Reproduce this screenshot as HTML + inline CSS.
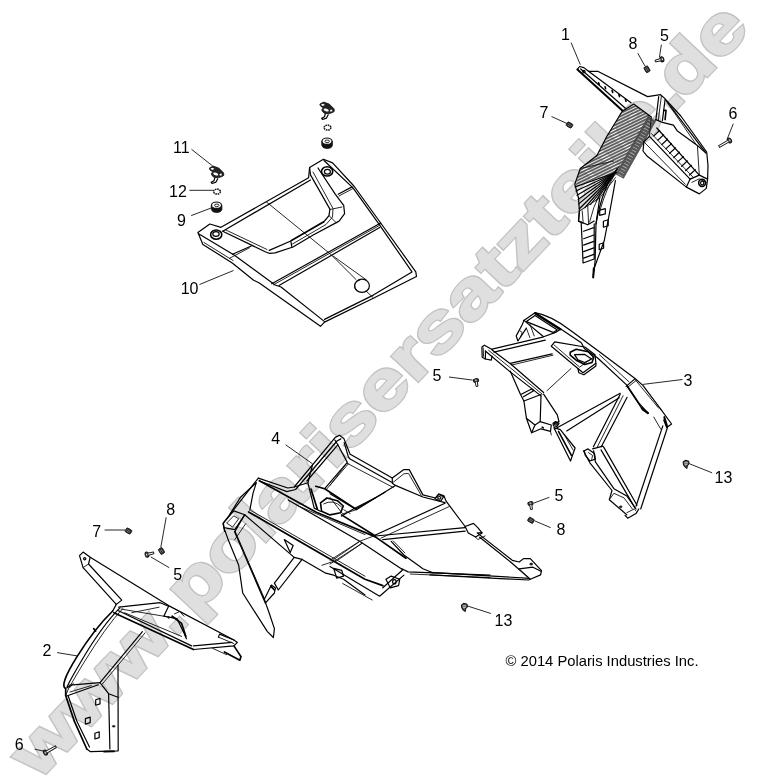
<!DOCTYPE html>
<html><head><meta charset="utf-8"><title>Parts diagram</title>
<style>
html,body{margin:0;padding:0;background:#fff;}
svg{display:block;filter:grayscale(1);font-family:"Liberation Sans",sans-serif;}
.wm{font-weight:bold;font-size:68px;font-kerning:none;}
.wm1{fill:#c2c2c2;stroke:#c2c2c2;stroke-width:3.4px;stroke-linejoin:miter;}
.wm2{fill:#dfdfdf;stroke:#dfdfdf;stroke-width:1.0px;stroke-linejoin:miter;}
.lb{font-size:16px;fill:#000;}
.ld{stroke:#111;stroke-width:0.9;fill:none;}
.p{stroke:#000;stroke-width:1.2;fill:none;stroke-linejoin:round;stroke-linecap:round;}
.t{stroke:#111;stroke-width:0.9;fill:none;stroke-linejoin:round;stroke-linecap:round;}
.b{stroke:#000;stroke-width:1.6;fill:none;stroke-linejoin:round;stroke-linecap:round;}
.f{stroke:#111;stroke-width:0.8;fill:#222;}
</style></head><body>
<svg width="758" height="780" viewBox="0 0 758 780">
<rect width="758" height="780" fill="#fff"/>
<defs><text id="wmt" dx="0 0 0 0 3.6 -1.6 -2 0 0 0 0 0 0 0 0 0 0 0 0 0 0 0 4.4 -4.4">www.polarisersatzteile.de</text></defs>
<g class="wm" transform="translate(38.5,781.1) rotate(-46.5) scale(1.2456,1)"><use href="#wmt" class="wm1"/><use href="#wmt" class="wm2"/></g>
<!-- part_01.py -->
<defs><clipPath id="c1"><path d="M623.6,110.4 L633.7,104.1 L651.3,116.9 L643.9,128.9 L621.0,164.8 L615.4,173.1 L575.7,185.5 L580.3,168.5 L596.9,155.5 L606.9,136.3 Z"/></clipPath></defs>
<g clip-path="url(#c1)" stroke="#5c5c5c" stroke-width="1.7" fill="none">
<path d="M560,130.0 L680,72.0"/>
<path d="M560,133.1 L680,75.1"/>
<path d="M560,136.2 L680,78.2"/>
<path d="M560,139.3 L680,81.3"/>
<path d="M560,142.4 L680,84.4"/>
<path d="M560,145.5 L680,87.5"/>
<path d="M560,148.6 L680,90.6"/>
<path d="M560,151.7 L680,93.7"/>
<path d="M560,154.8 L680,96.8"/>
<path d="M560,157.9 L680,99.9"/>
<path d="M560,161.0 L680,103.0"/>
<path d="M560,164.1 L680,106.1"/>
<path d="M560,167.2 L680,109.2"/>
<path d="M560,170.3 L680,112.3"/>
<path d="M560,173.4 L680,115.4"/>
<path d="M560,176.5 L680,118.5"/>
<path d="M560,179.6 L680,121.6"/>
<path d="M560,182.7 L680,124.7"/>
<path d="M560,185.8 L680,127.8"/>
<path d="M560,188.9 L680,130.9"/>
<path d="M560,192.0 L680,134.0"/>
<path d="M560,195.1 L680,137.1"/>
<path d="M560,198.2 L680,140.2"/>
<path d="M560,201.3 L680,143.3"/>
<path d="M560,204.4 L680,146.4"/>
<path d="M560,207.5 L680,149.5"/>
<path d="M560,210.6 L680,152.6"/>
<path d="M560,213.7 L680,155.7"/>
<path d="M560,216.8 L680,158.8"/>
<path d="M560,219.9 L680,161.9"/>
<path d="M560,223.0 L680,165.0"/>
<path d="M560,226.1 L680,168.1"/>
<path d="M560,229.2 L680,171.2"/>
<path d="M560,232.3 L680,174.3"/>
<path d="M560,235.4 L680,177.4"/>
<path d="M560,238.5 L680,180.5"/>
<path d="M560,241.6 L680,183.6"/>
<path d="M560,244.7 L680,186.7"/>
<path d="M560,247.8 L680,189.8"/>
<path d="M560,250.9 L680,192.9"/>
<path d="M560,254.0 L680,196.0"/>
<path d="M560,257.1 L680,199.1"/>
</g>
<path d="M652.3,118.2 L619.5,176.5" stroke="#4a4a4a" stroke-width="9.5" fill="none" opacity="0.92"/>
<path d="M652.3,118.2 L619.5,176.5" stroke="#ddd" stroke-width="5" fill="none" stroke-dasharray="0.7 2.4" opacity="0.75"/>
<path class="p" d="M577.4,69.4 L579.6,66.5 L583.9,67.6 L588.5,71.3"/>
<path class="b" d="M577.4,69.4 L622.6,110.8" style="stroke-width:2"/>
<path class="p" d="M580.7,69.0 L625.4,108.2"/>
<path class="p" d="M588.5,71.3 L631.0,102.7"/>
<path class="b" d="M598.6,82.7 L599.2,84.6"/>
<path class="b" d="M605.1,86.8 L605.6,88.6"/>
<path class="b" d="M612.1,90.6 L612.7,92.5"/>
<path class="b" d="M618.9,94.7 L619.5,96.6"/>
<path class="b" d="M625.4,99.3 L626.0,101.2"/>
<circle class="p" cx="583.9" cy="71.6" r="1.2"/>
<path class="p" d="M588.5,71.3 L597.7,71.3 L647.6,96.6 L660.5,94.7 L664.2,97.9 L680.8,116.0 L706.7,152.0 L708.0,165.8 L707.6,179.1 L706.3,188.4 L699.3,193.9 L686.4,187.1"/>
<path class="p" d="M666.0,100.3 L697.4,141.8 L705.8,152.9"/>
<path class="t" d="M667.9,103.4 L695.6,143.7"/>
<path class="p" d="M658.7,96.6 L655.9,119.6"/>
<path class="t" d="M661.4,96.0 L658.3,120.0"/>
<path class="p" d="M665.1,99.3 L662.4,120.6"/>
<path class="b" d="M663.8,110.4 L666.0,110.4 L665.1,119.6"/>
<path class="p" d="M655.9,119.6 L662.4,122.4 L673.4,125.2 L677.1,130.7 L697.4,145.5 L705.8,152.9"/>
<path class="t" d="M697.4,145.5 L699.3,175.1"/>
<path class="p" d="M656.8,128.0 L699.3,175.1"/>
<path class="p" d="M649.4,136.3 L690.1,179.1"/>
<path class="t" d="M651.3,133.5 L692.8,176.9"/>
<path class="b" d="M653.9,135.9 L659.6,130.5" style="stroke-width:1.2"/>
<path class="b" d="M657.8,140.2 L663.6,134.9" style="stroke-width:1.2"/>
<path class="b" d="M661.8,144.6 L667.5,139.2" style="stroke-width:1.2"/>
<path class="b" d="M665.8,148.9 L671.5,143.6" style="stroke-width:1.2"/>
<path class="b" d="M669.7,153.3 L675.5,147.9" style="stroke-width:1.2"/>
<path class="b" d="M673.7,157.6 L679.4,152.2" style="stroke-width:1.2"/>
<path class="b" d="M677.7,161.9 L683.4,156.6" style="stroke-width:1.2"/>
<path class="b" d="M681.7,166.3 L687.4,160.9" style="stroke-width:1.2"/>
<path class="b" d="M685.6,170.6 L691.4,165.3" style="stroke-width:1.2"/>
<path class="b" d="M689.6,175.0 L695.3,169.6" style="stroke-width:1.2"/>
<path class="p" d="M649.4,136.3 L643.9,141.8 L643.0,151.0 L646.7,155.7 L686.4,187.1 L690.1,179.1"/>
<path class="t" d="M643.9,141.8 L685.4,184.3"/>
<path class="t" d="M651.3,116.9 L649.4,136.3"/>
<path class="p" d="M690.1,179.1 L699.3,175.1 L707.6,179.1"/>
<path class="t" d="M691.9,182.4 L699.3,178.8 L706.3,182.4"/>
<ellipse class="b" cx="702.1" cy="182.8" rx="3.4" ry="3.6"/>
<ellipse class="p" cx="702.2" cy="183.0" rx="1.6" ry="1.8"/>
<path class="p" d="M622.6,110.8 L606.9,136.3 L596.9,155.5 L580.3,168.5 L574.8,184.2 L578.5,198.0 L579.4,211.0 L578.5,221.1 L583.1,223.0"/>
<path class="p" d="M623.6,110.4 L633.7,104.1 L651.3,116.9"/>
<path class="t" d="M580.3,168.5 L613.6,161.1"/>
<path class="p" d="M575.1,186.9 L615.8,172.5"/>
<path class="p" d="M575.9,191.0 L615.8,172.5"/>
<path class="p" d="M577.0,195.3 L615.8,172.5"/>
<path class="p" d="M578.1,199.5 L615.8,172.5"/>
<path class="p" d="M578.8,203.9 L615.8,172.5"/>
<path class="p" d="M579.4,208.7 L615.8,172.5"/>
<path class="p" d="M584.9,207.6 L615.8,172.5"/>
<path class="p" d="M590.5,204.5 L615.8,172.5"/>
<path class="p" d="M596.0,200.8 L615.8,172.5"/>
<path class="t" d="M579.4,211.0 L599.7,198.0 L615.4,177.7"/>
<path class="p" d="M617.3,168.5 Q602.5,186.9 596.0,223.9"/>
<path class="t" d="M615.4,172.2 Q596.9,190.6 589.6,222.0"/>
<path class="t" d="M619.1,166.6 Q608.0,183.2 599.7,211.0"/>
<path class="p" d="M578.5,221.1 L579.4,211.0"/>
<path class="p" d="M581.2,223.0 L583.1,263.0 L594.2,259.0 L594.2,223.9"/>
<path class="p" d="M578.5,221.1 L587.7,224.8 L594.2,221.1"/>
<path class="t" d="M582.2,211.0 L583.1,222.0"/>
<path class="t" d="M587.7,205.4 L588.6,223.9"/>
<path class="b" d="M583.6,231.3 L593.8,227.6" style="stroke-width:1.2"/>
<path class="b" d="M583.6,238.7 L593.8,235.0" style="stroke-width:1.2"/>
<path class="b" d="M583.6,245.1 L593.8,241.4" style="stroke-width:1.2"/>
<path class="b" d="M583.6,251.6 L593.8,247.9" style="stroke-width:1.2"/>
<path class="b" d="M583.6,258.1 L593.8,254.4" style="stroke-width:1.2"/>
<path class="p" d="M615.4,180.5 L613.6,190.6 L609.9,211.0 L604.3,240.5 L594.2,268.2 L593.2,277.4"/>
<path class="b" d="M593.2,277.4 L593.8,268.2" style="stroke-width:2"/>
<path class="p" d="M599.7,198.0 L596.0,223.9 L595.1,260.8 L594.2,270.1"/>
<path class="p" d="M599.7,210.2 L605.3,208.7 L605.3,213.9 L599.7,215.4 Z"/>
<path class="p" d="M603.4,221.3 L608.2,219.8 L608.2,225.7 L603.4,227.2 Z"/>
<path class="p" d="M599.2,244.2 L603.6,242.7 L603.6,248.3 L599.2,249.7 Z"/>
<!-- part_02.py -->
<path class="p" d="M79.5,555.7 L83.1,552.1 L90.2,557.3 L88.5,564.0 L121.8,600.1 L116.3,604.4 L83.1,567.6 Z"/>
<path class="t" d="M83.1,567.6 L88.5,564.0"/>
<circle class="p" cx="84.7" cy="558.8" r="1.1"/>
<path class="p" d="M90.2,557.3 L168.6,605.6 L233.9,640.0"/>
<path class="p" d="M116.3,604.4 L112.7,611.0"/>
<path class="b" style="stroke-width:1.7" d="M112.7,611.0 Q94.9,628.1 76.9,656.9 T65.7,688.6 L65.7,695.5"/>
<path class="p" d="M119.9,607.9 Q102.1,625.7 81.2,661.2 T70.0,685.2"/>
<path class="t" d="M122.7,608.6 Q105.6,626.9 83.7,662.9 T73.4,683.1"/>
<path class="b" d="M93.7,628.6 L95.6,631.0" style="stroke-width:1.7"/>
<path class="p" d="M118.7,607.2 L160.2,602.7 L168.6,606.3 L163.8,616.2 L176.9,618.6 L184.0,632.9 L186.4,638.8"/>
<path class="b" d="M113.9,612.7 L193.5,649.5" style="stroke-width:1.7"/>
<path class="p" d="M117.5,610.3 L191.6,645.9"/>
<path class="t" d="M121.1,609.1 L163.8,616.2"/>
<path class="t" d="M124.6,612.7 L181.6,636.4"/>
<path class="t" d="M131.7,612.7 L159.1,607.2"/>
<path class="b" d="M172.1,616.2 L181.6,623.4 L185.9,636.4" style="stroke-width:1.7"/>
<path class="t" d="M174.5,613.9 L179.7,611.5 L184.0,616.2"/>
<circle class="f" cx="168.6" cy="617.4" r="0.9"/>
<path class="p" d="M193.5,649.5 L233.9,645.9 L237.4,642.4 L233.9,640.0 L219.6,634.1 L218.4,637.1"/>
<path class="p" d="M193.5,645.9 L232.0,642.4"/>
<path class="t" d="M218.4,637.1 L233.9,643.6"/>
<path class="b" d="M233.9,645.9 L241.0,656.6 L239.8,660.2 L224.4,651.9" style="stroke-width:1.7"/>
<path class="t" d="M212.5,648.3 L226.7,654.7"/>
<path class="p" d="M142.4,631.7 L100.0,682.6"/>
<path class="t" d="M145.0,632.9 L102.1,684.3"/>
<path class="p" d="M70.0,685.2 L100.0,682.6 L108.6,693.7 L118.0,697.2"/>
<path class="p" d="M67.4,695.8 L98.3,684.7"/>
<path class="t" d="M70.0,692.0 L91.4,685.5"/>
<path class="t" d="M65.7,695.5 L70.0,685.2"/>
<path class="p" d="M118.0,665.4 L118.2,750.8 L90.5,751.7 L86.8,749.0"/>
<path class="p" d="M108.6,693.7 L109.9,749.0"/>
<path class="b" d="M104.0,751.6 L114.0,751.4" style="stroke-width:1.7"/>
<path class="b" d="M65.7,695.5 L74.3,721.2 L86.8,749.0" style="stroke-width:1.7"/>
<path class="p" d="M68.3,696.3 L76.9,721.2 L89.5,747.0"/>
<path class="p" d="M95.7,699.7 L100.0,698.4 L100.0,703.9 L95.7,705.2 Z"/>
<path class="p" d="M85.4,718.6 L90.2,717.2 L90.2,722.7 L85.4,724.1 Z"/>
<path class="p" d="M94.9,733.2 L99.2,731.8 L99.2,737.6 L94.9,739.0 Z"/>
<ellipse class="f" cx="113.7" cy="726.3" rx="1.4" ry="0.8"/>
<path class="ld" d="M57.1,652.6 L77.7,656.0"/>
<!-- part_03.py -->
<path class="p" d="M484.4,345.3 L481.9,347.0 L482.2,357.3 L485.3,359.0 L485.6,351.0"/>
<path class="p" d="M485.3,359.0 L491.3,360.2 L492.1,356.1"/>
<path class="p" d="M484.4,345.3 L492.1,349.6"/>
<path class="t" d="M483.2,347.9 L483.6,356.4"/>
<path class="p" d="M492.1,349.1 L542.7,337.1"/>
<path class="p" d="M493.9,352.2 L545.3,340.2"/>
<path class="p" d="M510.2,363.3 L552.2,353.9"/>
<path class="t" d="M511.9,365.0 L553.0,355.2"/>
<path class="p" d="M492.1,349.9 L511.0,364.2 L543.6,392.5"/>
<path class="p" d="M485.3,351.0 L510.2,371.9 L541.0,395.9"/>
<path class="t" d="M488.7,350.4 L510.7,368.1 L542.2,394.2"/>
<path class="p" d="M523.9,320.4 L535.0,312.7 L560.7,329.0 L555.6,332.4 L543.6,336.7"/>
<path class="p" d="M526.4,321.6 L535.0,315.6 L557.3,329.9 L553.0,332.4 L526.4,321.6"/>
<path class="b" d="M535.4,313.6 L560.2,329.2" style="stroke-width:2.4"/>
<path class="p" d="M523.9,320.4 L543.6,336.7"/>
<path class="p" d="M523.9,320.4 L522.2,324.7 L516.2,335.9 L517.9,341.0 L526.4,328.2"/>
<path class="t" d="M519.9,330.7 L522.2,332.4 L520.4,337.6"/>
<path class="t" d="M526.4,328.2 L529.9,337.6"/>
<path class="t" d="M529.9,324.2 L534.2,335.9"/>
<path class="p" d="M535.0,312.7 Q550.5,315.3 571.0,330.7 L599.4,351.8 L635.0,378.5 L642.9,385.4 L660.7,409.2"/>
<path class="p" d="M660.7,409.2 L671.6,424.0 L666.7,427.4 L663.7,420.0"/>
<path class="b" d="M664.3,417.1 L667.1,426.6" style="stroke-width:2"/>
<path class="p" d="M560.7,329.0 L581.3,342.7 L584.5,348.8 L597.4,357.7 L627.1,385.4 L639.0,403.2 L647.9,413.1"/>
<path class="t" d="M599.4,354.7 L629.1,381.9"/>
<path class="p" d="M626.1,386.4 L634.6,379.1"/>
<path class="t" d="M627.1,387.8 L636.0,380.5"/>
<path class="p" d="M627.1,386.4 L642.9,410.2 L647.9,413.1"/>
<path class="b" d="M641.9,408.2 L647.9,413.1" style="stroke-width:2.2"/>
<path class="t" d="M635.0,379.5 L658.7,408.2"/>
<path class="t" d="M653.8,417.1 L660.7,429.0"/>
<path class="p" d="M551.3,346.2 L554.7,341.9 L584.8,347.0 L595.0,354.7 L595.9,363.3 L583.0,372.7 L577.9,368.5 Z"/>
<path class="p" d="M577.9,368.5 L578.8,372.7 L583.9,374.8 L595.9,365.9 L595.9,363.3"/>
<path class="t" d="M553.9,344.8 L579.6,367.1 L593.3,357.3"/>
<path class="b" d="M570.2,352.2 L576.2,349.2 L588.2,351.8 L593.7,357.3 L592.0,362.5 L584.8,364.5 L576.2,360.2 L570.2,355.1 Z"/>
<path class="p" d="M574.5,354.7 L584.8,354.4 L591.6,359.0 L584.8,362.5 L577.9,359.9 Z"/>
<path class="t" d="M571.0,368.5 L547.0,390.7"/>
<path class="p" d="M554.8,429.0 L620.2,393.3"/>
<path class="p" d="M566.7,430.9 L619.2,397.7"/>
<path class="p" d="M620.2,394.3 L593.4,446.8"/>
<path class="p" d="M627.1,397.3 L601.3,446.8"/>
<path class="t" d="M623.1,395.7 L597.4,446.8"/>
<path class="p" d="M662.8,425.9 L636.0,506.2"/>
<path class="p" d="M667.4,427.7 L640.7,509.0"/>
<path class="p" d="M625.0,515.4 L627.7,518.2 L636.0,513.6 L638.8,509.0"/>
<path class="t" d="M626.8,512.7 L634.2,509.0 L636.0,510.8"/>
<path class="p" d="M592.6,448.9 L602.8,446.2 L603.7,447.1 L637.0,505.3"/>
<path class="p" d="M601.0,449.9 L635.1,508.1"/>
<path class="p" d="M593.6,450.8 L595.4,461.9 L613.9,488.7 L626.8,496.0 L636.0,509.0"/>
<path class="p" d="M583.4,450.8 L589.9,462.8 L612.0,490.5 L609.3,499.7 L622.2,510.8 L626.8,514.9"/>
<path class="t" d="M609.3,499.7 L613.9,493.3 L624.0,497.9 L632.4,509.0"/>
<ellipse class="f" cx="620.7" cy="506.8" rx="1.3" ry="0.9"/>
<path class="p" d="M584.3,450.8 L588.0,448.9 L594.5,453.6 L595.4,459.1 L589.9,461.0 L585.3,455.4 Z"/>
<path class="t" d="M588.4,452.6 L592.6,455.4 L591.7,459.5"/>
<path class="p" d="M553.9,427.7 L570.5,461.0 L575.1,448.0 L560.3,429.6 Z"/>
<path class="b" d="M558.5,431.4 L571.4,455.4" style="stroke-width:1.6"/>
<path class="t" d="M564.0,434.2 L573.2,450.2"/>
<path class="p" d="M510.2,371.0 L520.4,394.2 L523.9,401.0 L526.4,418.2 L531.6,432.8"/>
<path class="p" d="M521.3,394.2 L531.6,389.0 L533.7,390.7 L523.4,396.8"/>
<path class="p" d="M523.9,401.0 L541.0,394.5"/>
<path class="p" d="M541.0,395.9 L540.2,421.6 L535.0,425.0 L526.4,418.2"/>
<path class="p" d="M543.6,394.2 L557.3,414.8 L559.0,421.6 L554.2,423.7"/>
<path class="p" d="M535.0,425.0 L531.6,432.8 L541.0,428.8 L550.5,431.4 L551.3,425.0 L540.2,421.6"/>
<path class="b" d="M542.2,427.1 L543.3,427.8"/>
<path class="p" d="M553.0,423.3 L555.6,421.6 L559.0,423.3 L557.0,426.4 L553.5,425.9 Z"/>
<ellipse class="p" cx="555.9" cy="423.8" rx="1.5" ry="1.2"/>
<path class="t" d="M550.5,431.4 L551.3,435.0"/>
<path class="ld" d="M642.9,384.4 L682.5,379.5"/>
<!-- part_04.py -->
<path class="p" d="M258.3,478.1 L287.8,488.0 L294.2,487.0 L335.3,437.4 L339.5,435.3 L343.8,438.4 L350.1,454.3 L351.1,454.8 L392.3,478.0 L403.9,469.6 L409.2,469.6 L422.9,494.9 L435.5,498.0 L438.7,493.8 L444.0,495.9 L446.1,501.2 L465.1,526.5 L473.5,523.4 L477.8,527.6 L482.0,532.9 L477.2,532.9 L512.3,560.3 L519.2,562.0 L523.5,558.6 L530.3,558.6 L541.5,570.6 L540.6,574.9 L530.3,579.2"/>
<path class="p" d="M260.4,481.3 L286.8,491.6 L295.6,489.5 L337.0,441.0 L340.8,438.9"/>
<path class="p" d="M344.2,442.7 L348.4,457.0 L350.1,459.0 L391.6,482.2"/>
<path class="p" d="M392.3,478.0 L392.3,483.3 L395.4,485.4 L422.9,497.0 L445.0,502.7"/>
<path class="t" d="M393.3,482.2 L403.9,473.8 L408.5,473.4 L421.2,495.3"/>
<path class="p" d="M434.9,498.7 L438.7,494.5 L443.6,496.6 L440.8,501.2 Z"/>
<ellipse class="p" cx="439.3" cy="497.8" rx="1.6" ry="1.3"/>
<path class="p" d="M294.2,487.0 L307.9,482.8 L312.5,464.8"/>
<path class="p" d="M307.9,482.8 L314.2,508.1 L320.5,511.3"/>
<path class="b" d="M311.0,489.1 L317.4,509.2" style="stroke-width:1.7"/>
<path class="p" d="M334.8,440.0 L338.0,445.0 L347.3,462.4 L324.7,488.7"/>
<path class="p" d="M337.8,444.8 L306.9,481.0"/>
<path class="t" d="M335.5,443.0 L305.0,479.0"/>
<path class="t" d="M348.6,463.6 L326.2,489.6"/>
<path class="b" d="M315.8,486.3 L324.7,488.7 L355.6,508.9" style="stroke-width:1.7"/>
<path class="p" d="M355.6,508.9 L385.0,492.3"/>
<path class="p" d="M341.6,516.1 L354.3,508.5 L375.0,498.0"/>
<path class="t" d="M350.1,513.4 L343.8,509.8"/>
<path class="b" d="M320.5,502.8 L326.9,498.0 L337.4,500.7 L343.3,506.0 L340.6,512.7 L330.0,514.9 L321.6,511.3 Z"/>
<path class="t" d="M323.7,503.9 Q333.2,498.6 341.6,507.0"/>
<path class="p" d="M258.3,478.1 L223.4,522.9 L224.5,531.3"/>
<path class="p" d="M256.2,482.8 L240.3,497.5 L229.8,514.4"/>
<path class="p" d="M256.2,482.8 L253.0,493.3 L249.8,510.2"/>
<path class="p" d="M222.9,523.7 L233.8,510.9 L244.7,514.8 L234.8,529.7 L223.9,527.7 Z"/>
<path class="t" d="M226.9,522.8 L233.8,515.8 L238.7,518.8 L232.8,526.7 Z"/>
<path class="p" d="M223.9,527.7 L228.9,541.6 L238.7,565.3 L242.7,593.0 L267.4,631.6 L273.4,637.5 L274.4,628.6 L268.4,610.8 L265.5,602.9"/>
<path class="b" d="M234.8,531.7 L265.5,602.9" style="stroke-width:1.7"/>
<path class="t" d="M238.4,539.6 L264.5,599.0"/>
<path class="t" d="M245.7,523.7 L234.8,539.6"/>
<path class="p" d="M244.7,514.8 L234.8,531.7"/>
<path class="p" d="M265.5,602.9 L274.4,593.0 L275.4,588.1 L271.4,585.1 L264.5,599.0"/>
<path class="b" d="M270.8,586.1 L274.4,590.0" style="stroke-width:1.7"/>
<path class="b" d="M259.3,480.7 L316.3,512.3 L375.0,536.6" style="stroke-width:1.7"/>
<path class="b" d="M375.0,536.6 L406.0,558.2" style="stroke-width:1.7"/>
<path class="b" d="M341.6,514.9 L375.4,536.0" style="stroke-width:1.7"/>
<path class="p" d="M330.0,493.8 L356.4,509.7 L395.4,485.4"/>
<path class="t" d="M330.0,497.4 L342.7,513.9 L356.4,509.7"/>
<path class="t" d="M330.0,485.4 L346.9,463.2 L393.3,487.5"/>
<path class="b" d="M248.6,511.9 L365.0,579.2 L382.8,585.6" style="stroke-width:1.7"/>
<path class="t" d="M250.6,510.3 L365.0,576.2"/>
<path class="p" d="M288.2,500.0 L359.6,541.3 L402.8,569.8 L382.8,587.8"/>
<path class="t" d="M298.1,505.9 L365.0,534.6"/>
<path class="p" d="M244.7,514.8 L294.2,557.4 L274.4,583.1 L278.3,590.0 L302.1,559.4 L325.8,573.2 L333.7,575.2 L343.6,579.2 L365.0,595.0"/>
<path class="p" d="M294.2,557.4 L302.1,559.4"/>
<path class="p" d="M284.3,539.6 L290.2,552.4 L293.2,545.5 Z"/>
<path class="t" d="M321.9,565.3 L333.7,561.3 L341.7,565.3"/>
<path class="p" d="M333.7,568.3 L341.7,570.3 L343.6,576.2 L336.7,578.2 Z"/>
<path class="t" d="M333.7,559.4 L359.5,541.6"/>
<path class="t" d="M336.1,561.3 L362.4,543.1"/>
<path class="p" d="M445.0,503.3 L375.4,535.0"/>
<path class="t" d="M449.3,506.5 L380.7,538.2"/>
<path class="t" d="M330.0,560.3 L359.6,541.3 L375.4,535.4"/>
<path class="t" d="M330.0,564.1 L361.7,543.4"/>
<path class="p" d="M375.4,536.0 L465.1,527.6"/>
<path class="p" d="M382.8,539.6 L465.1,531.2"/>
<path class="p" d="M391.2,541.3 L403.9,555.0 L422.9,568.8 L433.4,573.0"/>
<path class="t" d="M393.3,540.9 L404.9,552.9"/>
<path class="p" d="M401.8,568.8 L408.1,571.9 L490.0,575.1"/>
<path class="t" d="M410.2,574.0 L490.0,577.6"/>
<path class="p" d="M330.0,566.6 L379.6,596.2 L403.9,575.1"/>
<path class="t" d="M342.7,583.5 L372.2,600.0"/>
<path class="p" d="M385.9,579.3 L391.2,576.1 L399.7,579.3 L398.6,585.6 L390.2,587.8 Z"/>
<ellipse class="p" cx="394.4" cy="581.8" rx="1.8" ry="2.2"/>
<path class="p" d="M465.1,526.5 L468.3,532.9 L475.6,537.1 L482.0,532.9"/>
<path class="t" d="M475.6,537.1 L477.8,539.6 L485.1,536.0"/>
<path class="p" d="M479.7,537.2 L510.6,562.0 L524.3,574.0 L528.6,577.8"/>
<path class="p" d="M430.0,572.3 L529.5,578.3"/>
<path class="p" d="M430.0,574.9 L528.6,580.0 L530.3,579.2"/>
<path class="p" d="M519.2,568.9 L532.9,567.2 L541.5,571.5"/>
<path class="t" d="M519.2,568.9 L526.0,575.7 L530.3,579.2"/>
<ellipse class="f" cx="531.2" cy="564.1" rx="1.4" ry="1"/>
<path class="ld" d="M285.7,444.8 L312.5,463.8"/>
<!-- part_10.py -->
<path class="p" d="M197.9,232.5 L209.8,224.0 L221.0,227.3 L308.6,177.7 L309.6,167.5 L323.4,159.2 L332.6,162.9 L353.9,186.0 L380.7,223.0 L415.8,271.9 L416.5,276.5 L373.3,298.3 L324.5,322.1 L320.5,326.3 L259.3,283.0 L253.3,280.0 L232.6,263.2 L202.9,244.4 Z"/>
<path class="p" d="M324.0,160.5 L353.0,187.9 L378.8,223.9 L412.0,271.9 L373.3,295.1 L324.5,319.4"/>
<path class="p" d="M199.0,234.0 L234.5,255.3 L275.1,285.0 L281.0,287.0 L324.6,321.6"/>
<path class="t" d="M204.0,242.5 L233.0,260.5"/>
<path class="p" d="M271.7,283.8 L380.7,223.0"/>
<path class="p" d="M279.0,285.5 L379.7,227.6"/>
<path class="t" d="M273.5,284.8 L380.2,225.0"/>
<path class="p" d="M232.5,254.3 L251.3,246.0"/>
<path class="t" d="M229.6,258.3 L249.4,247.8"/>
<path class="t" d="M266.5,202.0 L330.8,254.4 L356.0,279.5"/>
<path class="t" d="M333.0,256.0 L366.5,280.0"/>
<path class="t" d="M366.0,291.0 L373.0,297.5"/>
<ellipse class="p" cx="362" cy="285.8" rx="7.4" ry="6.6"/>
<path class="t" d="M357.5,291 A6.5,6 0 0 1 360,280"/>
<path class="p" d="M222.7,231.2 L310.5,180.0"/>
<path class="p" d="M222.7,231.2 L265.2,251.7 L269.2,253.3 L275.1,252.9 L293.0,247.0 L313.2,235.0 L339.1,221.1 L344.6,213.7 L343.7,205.4 L335.4,194.3 L318.0,168.0"/>
<path class="t" d="M225.5,229.8 L267.0,249.5"/>
<path class="p" d="M269.2,250.4 L291.9,240.5 L324.0,222.0"/>
<path class="p" d="M290.9,241.5 L291.9,247.4"/>
<path class="p" d="M291.0,240.5 L324.5,221.0 L329.0,215.6 L329.9,209.1 L310.5,174.9 L309.6,167.5"/>
<path class="t" d="M292.5,244.0 L326.0,224.5 L332.5,217.0 L333.0,208.5 L313.0,172.0"/>
<path class="p" d="M338.2,194.3 L352.0,186.9"/>
<path class="t" d="M339.0,196.0 L353.0,188.5"/>
<path class="t" d="M330.0,209.5 L342.0,207.0"/>
<path class="t" d="M329.0,215.6 L336.0,222.5"/>
<ellipse class="b" cx="327.1" cy="171.4" rx="5.6" ry="4.6"/>
<ellipse class="p" cx="327.4" cy="171.8" rx="3" ry="2.4"/>
<ellipse class="b" cx="216.2" cy="234.6" rx="5.6" ry="4.6"/>
<ellipse class="p" cx="216" cy="234" rx="3.2" ry="2.4"/>
<!-- part_hw_top.py -->
<g transform="translate(0.0,0.0)">
<path class="f" d="M209.3,168.1 L213.2,166.1 L218.8,168.1 L223.5,172.8 L223.9,175.2 L222.3,176.4 L218.8,177.6 L214.8,178.0 L212.0,175.6 L211.2,173.6 L212.8,172.0 L210.0,170.0 Z"/>
<ellipse cx="215.7" cy="174.0" rx="2.7" ry="1.3" fill="#fff" stroke="none" transform="rotate(20 215.7 174.0)"/>
<path class="f" d="M210.4,168.6 L212.8,167.7 L214.4,168.9 L212.0,170.0 Z" style="fill:#fff;stroke:none"/>
<path class="f" d="M219.5,174.0 L221.5,173.6 L221.9,175.2 L219.9,175.7 Z" style="fill:#fff;stroke:none"/>
<path class="b" d="M214.8,177.8 L214.0,180.7 L211.2,182.3 L212.0,183.5 L216.0,182.1 L217.7,178.8" style="fill:#fff;stroke-width:1.2"/>
<ellipse cx="217.0" cy="191.6" rx="3.4" ry="2.5" fill="none" stroke="#111" stroke-width="1.5" stroke-dasharray="1.6 0.7"/>
<path d="M211.2,205.3 L211.4,209.6 A5.3,3.4 0 0 0 221.9,209.6 L221.9,205.3 Z" fill="#111" stroke="#111" stroke-width="0.8"/>
<ellipse cx="216.5" cy="205.2" rx="5" ry="3.2" fill="#fff" stroke="#111" stroke-width="1.2"/>
<ellipse cx="216.7" cy="205.3" rx="2.2" ry="1.3" fill="#fff" stroke="#111" stroke-width="0.9"/>
</g>
<g transform="translate(110.5,-64.0)">
<path class="f" d="M209.3,168.1 L213.2,166.1 L218.8,168.1 L223.5,172.8 L223.9,175.2 L222.3,176.4 L218.8,177.6 L214.8,178.0 L212.0,175.6 L211.2,173.6 L212.8,172.0 L210.0,170.0 Z"/>
<ellipse cx="215.7" cy="174.0" rx="2.7" ry="1.3" fill="#fff" stroke="none" transform="rotate(20 215.7 174.0)"/>
<path class="f" d="M210.4,168.6 L212.8,167.7 L214.4,168.9 L212.0,170.0 Z" style="fill:#fff;stroke:none"/>
<path class="f" d="M219.5,174.0 L221.5,173.6 L221.9,175.2 L219.9,175.7 Z" style="fill:#fff;stroke:none"/>
<path class="b" d="M214.8,177.8 L214.0,180.7 L211.2,182.3 L212.0,183.5 L216.0,182.1 L217.7,178.8" style="fill:#fff;stroke-width:1.2"/>
<ellipse cx="217.0" cy="191.6" rx="3.4" ry="2.5" fill="none" stroke="#111" stroke-width="1.5" stroke-dasharray="1.6 0.7"/>
<path d="M211.2,205.3 L211.4,209.6 A5.3,3.4 0 0 0 221.9,209.6 L221.9,205.3 Z" fill="#111" stroke="#111" stroke-width="0.8"/>
<ellipse cx="216.5" cy="205.2" rx="5" ry="3.2" fill="#fff" stroke="#111" stroke-width="1.2"/>
<ellipse cx="216.7" cy="205.3" rx="2.2" ry="1.3" fill="#fff" stroke="#111" stroke-width="0.9"/>
</g>
<path class="ld" d="M191.5,149.3 L212.8,166.1"/>
<path class="ld" d="M189.4,190.3 L213.0,190.3"/>
<path class="ld" d="M191.2,215.6 L211.2,208.0"/>
<path class="ld" d="M199.5,284.5 L233.5,270.5"/>
<!-- part_zlabels.py -->
<g class="lb">
<text x="561.0" y="40.0">1</text>
<text x="660.0" y="40.5">5</text>
<text x="628.6" y="49.3">8</text>
<text x="728.6" y="119.2">6</text>
<text x="539.5" y="118.3">7</text>
<text x="173.0" y="153.4">11</text>
<text x="169.0" y="196.6">12</text>
<text x="177.0" y="225.6">9</text>
<text x="180.7" y="294.3">10</text>
<text x="432.5" y="381.4">5</text>
<text x="683.5" y="385.8">3</text>
<text x="714.5" y="482.6">13</text>
<text x="554.6" y="501.4">5</text>
<text x="556.4" y="535.2">8</text>
<text x="271.3" y="443.7">4</text>
<text x="494.5" y="625.6">13</text>
<text x="92.3" y="536.5">7</text>
<text x="166.3" y="514.6">8</text>
<text x="173.2" y="580.0">5</text>
<text x="42.4" y="656.2">2</text>
<text x="14.7" y="750.4">6</text>
</g>
<text x="505.5" y="665.6" font-size="14.3" fill="#000" textLength="193" lengthAdjust="spacingAndGlyphs">© 2014 Polaris Industries Inc.</text>
<path class="ld" d="M571.1,42.6 L580.3,64.7"/>
<path class="ld" d="M637.8,53.2 L645.0,66.1"/>
<path class="ld" d="M661.4,44.6 L659.4,57.5"/>
<path class="ld" d="M551.5,116.5 L567.3,123.7"/>
<path class="ld" d="M733.3,123.7 L727.0,139.5"/>
<path class="ld" d="M449.0,377.0 L472.6,380.1"/>
<path class="ld" d="M712.1,472.8 L689.8,463.9"/>
<path class="ld" d="M549.3,497.3 L533.7,503.1"/>
<path class="ld" d="M550.7,527.7 L535.0,521.0"/>
<path class="ld" d="M466.9,605.8 L490.9,613.5"/>
<path class="ld" d="M104.6,530.0 L125.0,530.0"/>
<path class="ld" d="M166.2,517.3 L160.8,547.3"/>
<path class="ld" d="M169.2,567.7 L150.8,556.9"/>
<path class="ld" d="M34.6,749.2 L44.2,751.2"/>
<g transform="translate(662.0,59.3) rotate(-15.0)"><ellipse cx="0" cy="0" rx="1.8" ry="2.6" fill="#444" stroke="#111" stroke-width="1.1"/><path d="M-1.5,-1.1 L-7,-0.9 L-7,0.9 L-1.5,1.1" fill="#fff" stroke="#111" stroke-width="0.9"/><ellipse cx="0.4" cy="0" rx="0.6" ry="1.0" fill="#ddd"/></g>
<g transform="translate(647.0,69.3) rotate(-30.0)"><rect x="-2.2" y="-3" width="4.4" height="6" rx="1" fill="#222" stroke="#111" stroke-width="0.8"/><path d="M-1,-2 L-1,2 M0.6,-2 L0.6,2" stroke="#bbb" stroke-width="0.5"/></g>
<g transform="translate(569.5,125.0) rotate(-60.0)"><rect x="-2.2" y="-3" width="4.4" height="6" rx="1" fill="#222" stroke="#111" stroke-width="0.8"/><path d="M-1,-2 L-1,2 M0.6,-2 L0.6,2" stroke="#bbb" stroke-width="0.5"/></g>
<g transform="translate(729.5,140.5) rotate(-30.0)"><ellipse cx="0" cy="0" rx="1.8" ry="2.6" fill="#444" stroke="#111" stroke-width="1.1"/><path d="M-1.5,-1.1 L-12,-0.9 L-12,0.9 L-1.5,1.1" fill="#fff" stroke="#111" stroke-width="0.9"/><ellipse cx="0.4" cy="0" rx="0.6" ry="1.0" fill="#ddd"/></g>
<g transform="translate(476.0,380.5) rotate(-100.0)"><ellipse cx="0" cy="0" rx="1.8" ry="2.6" fill="#444" stroke="#111" stroke-width="1.1"/><path d="M-1.5,-1.1 L-6,-0.9 L-6,0.9 L-1.5,1.1" fill="#fff" stroke="#111" stroke-width="0.9"/><ellipse cx="0.4" cy="0" rx="0.6" ry="1.0" fill="#ddd"/></g>
<g transform="translate(686.0,463.5)"><path d="M-2.8,-1.5 L-0.5,-3.2 L2.6,-2.4 L3.2,0 L1.5,1.8 L0.8,4.8 L-1.2,3.2 L-2.6,1 Z" fill="#666" stroke="#111" stroke-width="1.1"/><path d="M-1.6,-0.6 L1.8,-0.9 M-1.2,1 L1.6,0.8" stroke="#eee" stroke-width="0.6"/></g>
<g transform="translate(530.5,503.5) rotate(-100.0)"><ellipse cx="0" cy="0" rx="1.8" ry="2.6" fill="#444" stroke="#111" stroke-width="1.1"/><path d="M-1.5,-1.1 L-6,-0.9 L-6,0.9 L-1.5,1.1" fill="#fff" stroke="#111" stroke-width="0.9"/><ellipse cx="0.4" cy="0" rx="0.6" ry="1.0" fill="#ddd"/></g>
<g transform="translate(531.0,520.3) rotate(-60.0)"><rect x="-2.2" y="-3" width="4.4" height="6" rx="1" fill="#222" stroke="#111" stroke-width="0.8"/><path d="M-1,-2 L-1,2 M0.6,-2 L0.6,2" stroke="#bbb" stroke-width="0.5"/></g>
<g transform="translate(464.3,606.6)"><path d="M-2.8,-1.5 L-0.5,-3.2 L2.6,-2.4 L3.2,0 L1.5,1.8 L0.8,4.8 L-1.2,3.2 L-2.6,1 Z" fill="#666" stroke="#111" stroke-width="1.1"/><path d="M-1.6,-0.6 L1.8,-0.9 M-1.2,1 L1.6,0.8" stroke="#eee" stroke-width="0.6"/></g>
<g transform="translate(128.5,531.0) rotate(-60.0)"><rect x="-2.2" y="-3" width="4.4" height="6" rx="1" fill="#222" stroke="#111" stroke-width="0.8"/><path d="M-1,-2 L-1,2 M0.6,-2 L0.6,2" stroke="#bbb" stroke-width="0.5"/></g>
<g transform="translate(161.5,551.0) rotate(-30.0)"><rect x="-2.2" y="-3" width="4.4" height="6" rx="1" fill="#222" stroke="#111" stroke-width="0.8"/><path d="M-1,-2 L-1,2 M0.6,-2 L0.6,2" stroke="#bbb" stroke-width="0.5"/></g>
<g transform="translate(147.0,554.6) rotate(-195.0)"><ellipse cx="0" cy="0" rx="1.8" ry="2.6" fill="#444" stroke="#111" stroke-width="1.1"/><path d="M-1.5,-1.1 L-7,-0.9 L-7,0.9 L-1.5,1.1" fill="#fff" stroke="#111" stroke-width="0.9"/><ellipse cx="0.4" cy="0" rx="0.6" ry="1.0" fill="#ddd"/></g>
<g transform="translate(45.5,752.6) rotate(150.5)"><ellipse cx="0" cy="0" rx="1.8" ry="2.6" fill="#444" stroke="#111" stroke-width="1.1"/><path d="M-1.5,-1.1 L-12,-0.9 L-12,0.9 L-1.5,1.1" fill="#fff" stroke="#111" stroke-width="0.9"/><ellipse cx="0.4" cy="0" rx="0.6" ry="1.0" fill="#ddd"/></g>
</svg>
</body></html>
